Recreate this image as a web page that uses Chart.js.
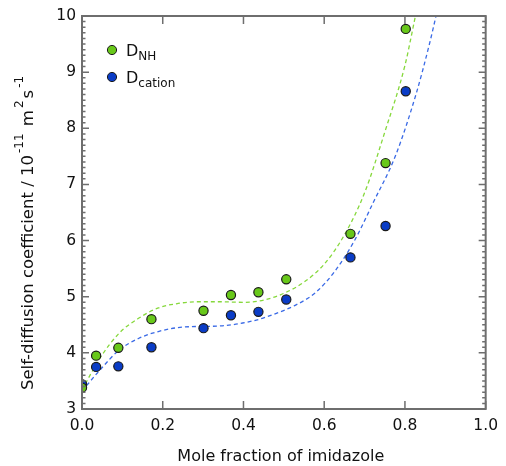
<!DOCTYPE html>
<html>
<head>
<meta charset="utf-8">
<script src="https://cdn.jsdelivr.net/npm/chart.js@4/dist/chart.umd.min.js"></script>
<style>
html,body{margin:0;padding:0;background:#fff;}
#wrap{width:506px;height:466px;position:relative;}
</style>
</head>
<body>
<div id="wrap"><canvas id="c" width="506" height="466"></canvas></div>
<script>
// ---- data ----
const moleFraction = [0, 0.035, 0.09, 0.172, 0.301, 0.369, 0.437, 0.506, 0.665, 0.752, 0.802];
const dNH =      [3.38, 3.95, 4.09, 4.60, 4.75, 5.03, 5.08, 5.31, 6.12, 7.38, 9.77];
const dCation =  [3.44, 3.75, 3.76, 4.10, 4.44, 4.67, 4.73, 4.95, 5.70, 6.26, 8.66];

const fitNHx =   [0, 0.044, 0.092, 0.141, 0.189, 0.238, 0.286, 0.343, 0.40, 0.45, 0.50, 0.55, 0.60, 0.65, 0.70, 0.75, 0.80, 0.826];
const fitNHy =   [3.34, 3.90, 4.35, 4.62, 4.80, 4.88, 4.91, 4.91, 4.90, 4.94, 5.06, 5.26, 5.58, 6.10, 6.85, 7.93, 9.12, 10.0];
const fitCatx =  [0, 0.044, 0.092, 0.141, 0.189, 0.238, 0.286, 0.343, 0.424, 0.48, 0.529, 0.578, 0.626, 0.675, 0.723, 0.776, 0.828, 0.861, 0.877];
const fitCaty =  [3.32, 3.69, 4.05, 4.26, 4.38, 4.45, 4.47, 4.48, 4.57, 4.70, 4.85, 5.07, 5.45, 6.00, 6.70, 7.50, 8.62, 9.51, 10.0];

const xTickLabels = ['0.0','0.2','0.4','0.6','0.8','1.0'];
const yTickLabels = ['3','4','5','6','7','8','9','10'];
const xTitle = 'Mole fraction of imidazole';
const yTitleParts = [['Self-diffusion coefficient / 10',0],['-11',1],[' m',0],['2',1],['s',0],['-1',1]];
const legendItems = [['D','NH'],['D','cation']];

// ---- styles ----
const GREEN = '#68c81a', BLUE = '#0a3cc6';
const GREEN_LINE = '#86d83c', BLUE_LINE = '#3a6ae6';
const FRAME = '#6e6e6e';
const FONT = '"DejaVu Sans", sans-serif';

const pts = (xs, ys) => xs.map((x, i) => ({x, y: ys[i]}));

const decorPlugin = {
  id: 'decor',
  afterDraw(chart) {
    const ctx = chart.ctx, a = chart.chartArea;
    const xs = chart.scales.x, ys = chart.scales.y;
    ctx.save();
    // frame
    ctx.strokeStyle = FRAME; ctx.lineWidth = 2;
    ctx.strokeRect(a.left, a.top, a.right - a.left, a.bottom - a.top);
    // y ticks (major + minor), both sides, inward
    ctx.lineWidth = 1.5;
    ctx.beginPath();
    const yt = ys.ticks.map(t => t.value);
    for (let i = 0; i < yt.length; i++) {
      const p = ys.getPixelForValue(yt[i]);
      ctx.moveTo(a.left, p); ctx.lineTo(a.left + 7, p);
      ctx.moveTo(a.right, p); ctx.lineTo(a.right - 7, p);
      if (i < yt.length - 1) {
        const step = (yt[i+1] - yt[i]) / 10;
        for (let k = 1; k < 10; k++) {
          const q = ys.getPixelForValue(yt[i] + k * step);
          ctx.moveTo(a.left, q); ctx.lineTo(a.left + 3.5, q);
          ctx.moveTo(a.right, q); ctx.lineTo(a.right - 3.5, q);
        }
      }
    }
    // x ticks, both sides, inward
    xs.ticks.forEach(t => {
      const p = xs.getPixelForValue(t.value);
      ctx.moveTo(p, a.bottom); ctx.lineTo(p, a.bottom - 8);
      ctx.moveTo(p, a.top); ctx.lineTo(p, a.top + 8);
    });
    ctx.stroke();

    // x title
    ctx.fillStyle = '#111';
    ctx.font = '16px ' + FONT;
    ctx.textAlign = 'center'; ctx.textBaseline = 'alphabetic';
    ctx.fillText(xTitle, (a.left + a.right) / 2 - 3, 461);

    // y title (rotated, with superscripts), starts at bottom y=390
    const big = '16.5px ' + FONT, small = '12px ' + FONT;
    ctx.save();
    ctx.translate(33, 390);
    ctx.rotate(-Math.PI / 2);
    ctx.textAlign = 'left';
    let x = 0;
    yTitleParts.forEach(([s, sup]) => {
      ctx.font = sup ? small : big;
      if (sup) x += 2;
      ctx.fillText(s, x, sup ? -10 : 0);
      x += ctx.measureText(s).width + (sup ? 2 : 0);
    });
    ctx.restore();

    // legend
    const colors = [GREEN, BLUE];
    const rows = [50, 77];
    legendItems.forEach(([main, sub], i) => {
      const cy = rows[i];
      ctx.beginPath();
      ctx.arc(112, cy, 4.6, 0, Math.PI * 2);
      ctx.fillStyle = colors[i]; ctx.fill();
      ctx.lineWidth = 1; ctx.strokeStyle = '#1a1a1a'; ctx.stroke();
      ctx.fillStyle = '#111';
      ctx.textAlign = 'left';
      ctx.font = '16px ' + FONT;
      ctx.fillText(main, 126, cy + 6);
      const w = ctx.measureText(main).width;
      ctx.font = '12px ' + FONT;
      ctx.fillText(sub, 126 + w, cy + 10);
    });
    ctx.restore();
  }
};

new Chart(document.getElementById('c'), {
  type: 'scatter',
  data: {
    datasets: [
      { label: 'D_NH', data: pts(moleFraction, dNH), backgroundColor: GREEN, borderColor: '#1a1a1a',
        borderWidth: 1.2, pointRadius: 4.6, pointHoverRadius: 4.6, order: 0 },
      { label: 'D_cation', data: pts(moleFraction, dCation), backgroundColor: BLUE, borderColor: '#1a1a1a',
        borderWidth: 1.2, pointRadius: 4.6, pointHoverRadius: 4.6, order: 1 },
      { label: 'fit NH', data: pts(fitNHx, fitNHy), showLine: true, pointRadius: 0, borderColor: GREEN_LINE,
        borderWidth: 1.3, borderDash: [4, 3], cubicInterpolationMode: 'monotone', fill: false, order: 2 },
      { label: 'fit cation', data: pts(fitCatx, fitCaty), showLine: true, pointRadius: 0, borderColor: BLUE_LINE,
        borderWidth: 1.3, borderDash: [4, 3], cubicInterpolationMode: 'monotone', fill: false, order: 3 }
    ]
  },
  options: {
    responsive: false,
    animation: false,
    events: [],
    layout: { padding: { top: 16, right: 12, left: 0, bottom: 0 } },
    plugins: { legend: { display: false }, tooltip: { enabled: false }, title: { display: false } },
    scales: {
      x: {
        type: 'linear', min: 0, max: 1,
        grid: { display: false, drawTicks: false },
        border: { display: false },
        ticks: { stepSize: 0.2, padding: 8, color: '#111', font: { family: FONT, size: 15.5 },
                 maxRotation: 0, callback: (v, i) => xTickLabels[i] },
        afterFit: s => { s.height = 57; }
      },
      y: {
        type: 'linear', min: 3, max: 10,
        grid: { display: false, drawTicks: false },
        border: { display: false },
        ticks: { stepSize: 1, padding: 6, color: '#111', font: { family: FONT, size: 15.5 },
                 callback: (v, i) => yTickLabels[i] },
        afterFit: s => { s.width = 82; }
      }
    }
  },
  plugins: [decorPlugin]
});
</script>
</body>
</html>
